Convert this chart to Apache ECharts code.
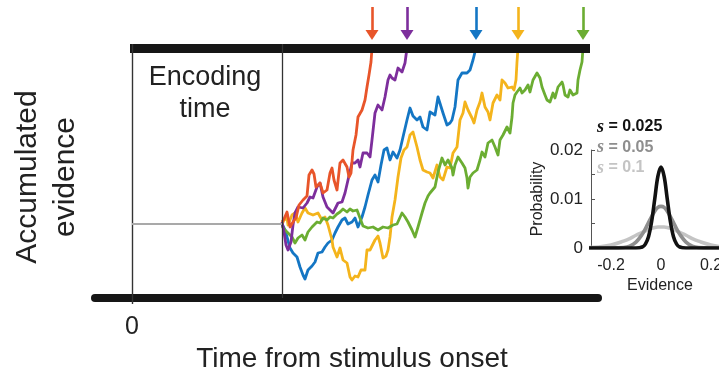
<!DOCTYPE html>
<html><head><meta charset="utf-8">
<script src="https://cdn.jsdelivr.net/npm/echarts@6/dist/echarts.min.js"></script>
<style>html,body{margin:0;padding:0;background:#fff}#c{width:719px;height:371px}</style>
</head><body><div id="c"></div>
<script>
// ---- main panel: time from stimulus onset (arbitrary units), accumulated evidence (lower bar = 0)
const encodingEnd = 150;      // end of encoding time
const startEvidence = 74;     // starting point of accumulation
const upperBound = 250;       // decision bound
const xTickValues = [0];

const walkOrange = [[150,76],[152,79],[155,86],[158,71],[161,76],[164,80],[167,93],[171,98],[175,102],[177,123],[180,128],[182,124],[184,111],[188,115],[191,105],[195,108],[198,125],[200,130],[202,118],[205,108],[208,135],[211,138],[215,131],[217,121],[219,125],[221,148],[224,163],[226,181],[230,188],[233,198],[235,211],[237,223],[239,236],[240,250]];
const walkPurple = [[150,76],[152,66],[154,53],[156,48],[159,56],[161,73],[163,85],[166,91],[171,90],[175,95],[178,101],[181,100],[185,111],[188,115],[191,101],[195,91],[198,88],[201,85],[206,95],[210,96],[213,105],[216,118],[220,135],[223,135],[226,138],[228,131],[231,145],[235,145],[238,141],[240,158],[243,185],[246,193],[250,188],[253,201],[256,218],[258,223],[260,220],[263,218],[266,230],[270,226],[273,235],[275,250]];
const walkBlue = [[150,74],[153,68],[155,61],[158,50],[161,45],[165,41],[168,31],[171,23],[173,19],[176,28],[180,32],[183,36],[186,45],[190,46],[193,51],[196,55],[200,58],[203,65],[206,71],[210,78],[213,80],[216,74],[220,76],[223,80],[226,71],[230,81],[233,91],[236,103],[240,118],[243,123],[246,116],[249,133],[252,148],[255,150],[258,138],[261,146],[265,140],[268,148],[271,161],[275,178],[278,190],[281,182],[285,178],[288,181],[291,171],[295,168],[298,186],[303,183],[306,201],[308,203],[311,185],[315,173],[318,175],[320,178],[323,191],[326,218],[330,225],[335,225],[338,228],[341,238],[344,250]];
const walkYellow = [[150,74],[152,78],[155,80],[156,73],[160,83],[163,85],[166,76],[170,85],[173,90],[176,85],[181,83],[186,85],[190,78],[193,81],[196,73],[200,58],[201,51],[205,41],[208,50],[211,38],[215,35],[218,21],[220,18],[223,22],[226,21],[229,28],[233,28],[235,48],[238,48],[243,58],[246,62],[248,55],[251,40],[254,42],[256,48],[258,61],[260,81],[263,98],[266,121],[269,140],[272,148],[275,151],[278,163],[281,166],[285,151],[288,138],[291,128],[295,126],[298,125],[301,120],[305,133],[308,121],[311,118],[315,131],[318,130],[321,145],[325,151],[328,178],[331,185],[333,196],[336,188],[340,180],[342,175],[345,188],[348,196],[350,205],[353,191],[356,186],[358,178],[361,195],[365,203],[368,198],[370,218],[373,215],[376,210],[380,211],[382,208],[384,218],[385,236],[386,250]];
const walkGreen = [[150,72],[153,68],[156,65],[160,61],[163,55],[166,60],[170,63],[173,58],[176,66],[180,71],[185,76],[188,75],[191,80],[195,78],[198,81],[201,80],[205,84],[208,86],[211,89],[215,86],[218,89],[221,87],[225,88],[228,80],[231,72],[236,70],[241,71],[246,68],[251,71],[256,70],[261,73],[265,74],[270,85],[273,81],[276,76],[280,68],[283,61],[286,71],[290,85],[293,95],[296,102],[298,105],[303,111],[306,126],[310,140],[313,133],[316,138],[320,130],[321,123],[323,133],[326,141],[330,135],[333,130],[335,120],[336,110],[338,121],[341,125],[345,128],[348,138],[350,146],[353,141],[356,155],[360,158],[363,151],[366,143],[368,158],[371,163],[375,171],[378,165],[380,181],[381,195],[383,203],[385,206],[388,210],[390,205],[393,208],[396,213],[398,206],[401,218],[405,225],[408,220],[410,211],[413,203],[415,198],[418,196],[421,205],[423,200],[426,211],[430,216],[431,213],[433,203],[436,201],[438,208],[441,203],[445,205],[446,218],[448,228],[450,236],[451,250]];

// ---- inset: distribution of evidence samples
const evidenceValues = [-0.3,-0.25,-0.2,-0.15,-0.125,-0.1,-0.075,-0.0625,-0.05,-0.0375,-0.025,-0.0125,0,0.0125,0.025,0.0375,0.05,0.0625,0.075,0.1,0.125,0.15,0.2,0.25,0.3];
const probS025 = [0,0,0,0,0,0,0.0002,0.0008,0.0023,0.0054,0.0100,0.0146,0.0165,0.0146,0.0100,0.0054,0.0023,0.0008,0.0002,0,0,0,0,0,0];
const probS05  = [0,0,0,0.0001,0.0004,0.0012,0.0028,0.0039,0.0052,0.0064,0.0075,0.0083,0.0085,0.0083,0.0075,0.0064,0.0052,0.0039,0.0028,0.0012,0.0004,0.0001,0,0,0];
const probS1   = [0.0001,0.0002,0.0006,0.0014,0.0019,0.0026,0.0032,0.0035,0.0038,0.0040,0.0042,0.0043,0.0043,0.0043,0.0042,0.0040,0.0038,0.0035,0.0032,0.0026,0.0019,0.0014,0.0006,0.0002,0.0001];
const insetNames = ['0.025','0.05','0.1'];
const insetXTicks = [-0.2,0,0.2];
const insetYTicks = [0,0.01,0.02];
const insetMinorTicks = [0,0.005,0.01,0.015,0.02];

const FONT = 'Liberation Sans, Arial, sans-serif';
const walks = [
  {name:'orange', data:walkOrange, color:'#E8552A'},
  {name:'purple', data:walkPurple, color:'#7D2E9C'},
  {name:'blue',   data:walkBlue,   color:'#1476C4'},
  {name:'yellow', data:walkYellow, color:'#F4B41C'},
  {name:'green',  data:walkGreen,  color:'#6BAD32'}
];
const drawOrder = ['blue','yellow','green','purple','orange'];
const zip = (xs, ys) => xs.map((x,i)=>[x, ys[i]]);

const series = [];
drawOrder.forEach(n => {
  const w = walks.find(v => v.name === n);
  const tEnd = w.data[w.data.length-1][0];
  series.push({
    type:'line', name:w.name, data:w.data, xAxisIndex:0, yAxisIndex:0,
    showSymbol:false, symbol:'none', z:3,
    lineStyle:{color:w.color, width:2.8, join:'round'},
    markLine:{
      silent:true, animation:false, symbol:['none','triangle'], symbolSize:[13,10],
      label:{show:false},
      lineStyle:{color:w.color, width:2.6, type:'solid'},
      data:[[{coord:[tEnd, 291]},{coord:[tEnd, 263]}]]
    }
  });
});
// frame: bound, onset line, encoding line, baseline
series.push({
  type:'line', data:[], xAxisIndex:0, yAxisIndex:0, z:6,
  markLine:{
    silent:true, animation:false, symbol:['none','none'], label:{show:false},
    data:[
      [{coord:[-2, upperBound], lineStyle:{color:'#161616', width:9, type:'solid'}},{coord:[458, upperBound]}],
      [{coord:[0, 0], lineStyle:{color:'#333', width:1.4, type:'solid'}},{coord:[0, upperBound+4]}],
      [{coord:[encodingEnd, 0], lineStyle:{color:'#333', width:1.3, type:'solid'}},{coord:[encodingEnd, upperBound+4]}],
      [{coord:[0, startEvidence], lineStyle:{color:'#a9a9a9', width:2, type:'solid'}},{coord:[encodingEnd, startEvidence]}]
    ]
  }
});
const insetColors = ['#111111','#8e8e8e','#c4c4c4'];
[probS1, probS05, probS025].forEach((p, k) => {
  const idx = 2 - k;
  series.push({
    type:'line', name:'s = ' + insetNames[idx], data:zip(evidenceValues, p),
    xAxisIndex:1, yAxisIndex:1, showSymbol:false, symbol:'none', smooth:0.35, z:4 + k,
    lineStyle:{color:insetColors[idx], width:3.6}
  });
});

const chart = echarts.init(document.getElementById('c'), null, {renderer:'canvas'});
chart.setOption({
  animation:false,
  backgroundColor:'#fff',
  grid:[
    {left:95, right:121, top:0, bottom:73, outerBoundsMode:'none', containLabel:false},
    {left:591, right:0, top:150, bottom:123, outerBoundsMode:'none', containLabel:false}
  ],
  xAxis:[
    {type:'value', gridIndex:0, min:-37, max:466,
     axisLine:{show:true, onZero:false, lineStyle:{color:'#161616', width:8}},
     axisTick:{show:true, customValues:xTickValues, length:6, lineStyle:{color:'#333', width:1.4}},
     splitLine:{show:false},
     axisLabel:{customValues:xTickValues, margin:17, fontSize:25, color:'#222', fontFamily:FONT},
     name:'Time from stimulus onset', nameLocation:'middle', nameGap:39,
     nameTextStyle:{fontSize:28, color:'#222', fontFamily:FONT, padding:[0,0,0,11]}},
    {type:'value', gridIndex:1, min:-0.28, max:0.232,
     axisLine:{show:false, onZero:false}, axisTick:{show:false}, splitLine:{show:false},
     axisLabel:{customValues:insetXTicks, margin:10, fontSize:16, color:'#222', fontFamily:FONT,
       formatter:v => v === 0 ? '0' : v.toFixed(1)},
     name:'Evidence', nameLocation:'middle', nameGap:30,
     nameTextStyle:{fontSize:16, color:'#222', fontFamily:FONT, padding:[0,0,0,10]}}
  ],
  yAxis:[
    {type:'value', gridIndex:0, min:0, max:298, show:false},
    {type:'value', gridIndex:1, min:0, max:0.02,
     axisLine:{show:true, onZero:false, lineStyle:{color:'#555', width:1}},
     axisTick:{show:true, inside:true, length:4, customValues:insetMinorTicks, lineStyle:{color:'#555'}},
     splitLine:{show:false},
     axisLabel:{customValues:insetYTicks, margin:8, fontSize:17, color:'#222', fontFamily:FONT,
       formatter:v => v === 0 ? '0' : String(v)},
     name:'Probability', nameLocation:'middle', nameGap:44,
     nameTextStyle:{fontSize:16, color:'#222', fontFamily:FONT}}
  ],
  graphic:[
    {type:'text', x:205, y:94, style:{text:'Encoding\ntime', font:'27px ' + FONT, fill:'#222', align:'center', verticalAlign:'middle', lineHeight:32}},
    {type:'text', x:47, y:177, rotation:Math.PI/2, style:{text:'Accumulated\nevidence', font:'30px ' + FONT, fill:'#222', align:'center', verticalAlign:'middle', lineHeight:38}},
  ].concat(insetNames.map((n, i) => ({
    type:'text', x:597, y:127 + i*20.5,
    style:{text:'{i|s}{b| = ' + n + '}', verticalAlign:'middle', align:'left',
      rich:{
        i:{fontFamily:'Liberation Serif', fontStyle:'italic', fontWeight:'bold', fontSize:18, fill:insetColors[i]},
        b:{fontFamily:FONT, fontWeight:'bold', fontSize:16, fill:insetColors[i]}
      }}
  }))),
  series:series
});
</script></body></html>
